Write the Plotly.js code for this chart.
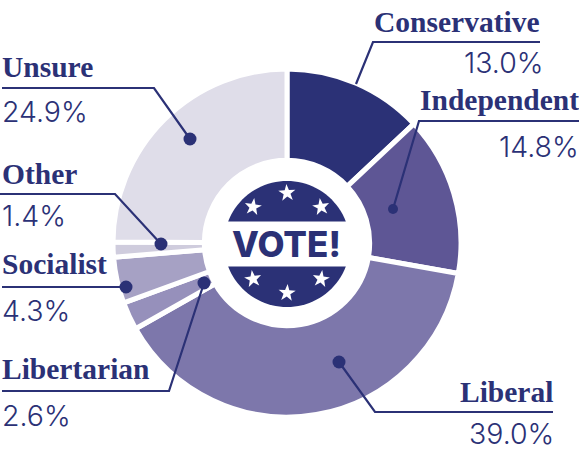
<!DOCTYPE html>
<html><head><meta charset="utf-8">
<script src="https://cdn.plot.ly/plotly-3.0.1.min.js"></script>
<style>html,body{margin:0;padding:0;background:#fff}#c{width:579px;height:451px}</style>
</head><body><div id="c"></div>
<script>
const W = 579, H = 451;
const categories = ["Conservative","Independent","Liberal","Libertarian","Socialist","Other","Unsure"];
const values = [13.0,14.8,39.0,2.6,4.3,1.4,24.9];
const colors = ["#2b3176","#5e5695","#7d77ab","#9690bb","#a6a1c4","#cfccdd","#dfdde9"];
const ink = "#2b3176";
const cx = 287, cy = 243, R = 174;

const px = x => x / W, py = y => 1 - y / H;
const labelSerif = "Liberation Serif", labelSans = "Inter";

const nameX = [541,580,554,1,1,1,1];
const nameY = [22,100,392,369,264,174,67];
const pctX  = [544,580,555,1,1,1,1];
const pctY  = [63,146,433,415,310,215,112];
const anchors = ["right","right","right","left","left","left","left"];
const leaders = [
 [[540,42],[373,42],[356,84]],
 [[579,121],[419,121],[393,209]],
 [[553,412],[375,412],[339,362]],
 [[2,391],[169,391],[204,283]],
 [[2,287],[126,287]],
 [[0,194],[115,194],[161,244]],
 [[2,88],[154,88],[190,139]]
];
const dots = [null,[393,209,5],[339,362,6.5],[204,283,6.5],[126,287,6.5],[161,244,6.5],[190,139,6.5]];
const stars = [[287,193,-4],[253,207,8],[321,207,-8],[253,279,-8],[321,279,8],[287,293,4]];

const shapes = [], annotations = [];
leaders.forEach(p => shapes.push({type:"path",xref:"paper",yref:"paper",layer:"above",
  path:"M"+p.map(q=>px(q[0])+" "+py(q[1])).join(" L"),line:{color:ink,width:2.2}}));
dots.forEach(d => { if(d) shapes.push({type:"circle",xref:"paper",yref:"paper",layer:"above",
  x0:px(d[0]-d[2]),x1:px(d[0]+d[2]),y0:py(d[1]+d[2]),y1:py(d[1]-d[2]),fillcolor:ink,line:{width:0}}); });

const br = 63;
function cap(sign){
  const pts=[];
  const a0 = Math.asin(22.5/br);
  for(let i=0;i<=40;i++){
    const a = a0 + (Math.PI-2*a0)*i/40;
    pts.push([cx+br*Math.cos(a), 244+sign*br*Math.sin(a)]);
  }
  return "M"+pts.map(q=>px(q[0])+" "+py(q[1])).join(" L")+" Z";
}
shapes.push({type:"path",xref:"paper",yref:"paper",layer:"above",path:cap(-1),fillcolor:ink,line:{width:0}});
shapes.push({type:"path",xref:"paper",yref:"paper",layer:"above",path:cap(1),fillcolor:ink,line:{width:0}});
stars.forEach(s=>{
  const pts=[];
  for(let i=0;i<10;i++){
    const r=i%2?3.6:9, a=(s[2]-90+36*i)*Math.PI/180;
    pts.push([s[0]+r*Math.cos(a),s[1]+r*Math.sin(a)]);
  }
  shapes.push({type:"path",xref:"paper",yref:"paper",layer:"above",
    path:"M"+pts.map(q=>px(q[0])+" "+py(q[1])).join(" L")+" Z",fillcolor:"#fff",line:{width:0}});
});

annotations.push({xref:"paper",yref:"paper",x:px(286),y:py(244),text:"VOTE!",showarrow:false,xanchor:"center",yanchor:"middle",
  font:{family:"Inter",size:35,color:ink,weight:800}});
categories.forEach((c,i)=>{
  annotations.push({xref:"paper",yref:"paper",x:px(nameX[i]),y:py(nameY[i]),text:c,showarrow:false,xanchor:anchors[i],yanchor:"middle",borderpad:0,
    font:{family:labelSerif,size:29.5,color:ink,weight:700}});
  annotations.push({xref:"paper",yref:"paper",x:px(pctX[i]),y:py(pctY[i]),text:values[i].toFixed(1)+"%",showarrow:false,xanchor:anchors[i],yanchor:"middle",borderpad:0,
    font:{family:labelSans,size:28.5,color:ink,weight:300}});
});

Plotly.newPlot("c",[{
  type:"pie",labels:categories,values:values,sort:false,direction:"clockwise",rotation:0,hole:0.475,
  marker:{colors:colors,line:{color:"#fff",width:5}},textinfo:"none",hoverinfo:"label+percent",showlegend:false,
  domain:{x:[px(cx-R),px(cx+R)],y:[py(cy+R),py(cy-R)]}
}],{width:W,height:H,margin:{l:0,r:0,t:0,b:0},paper_bgcolor:"#fff",showlegend:false,shapes,annotations},{displayModeBar:false,staticPlot:true});
</script></body></html>
